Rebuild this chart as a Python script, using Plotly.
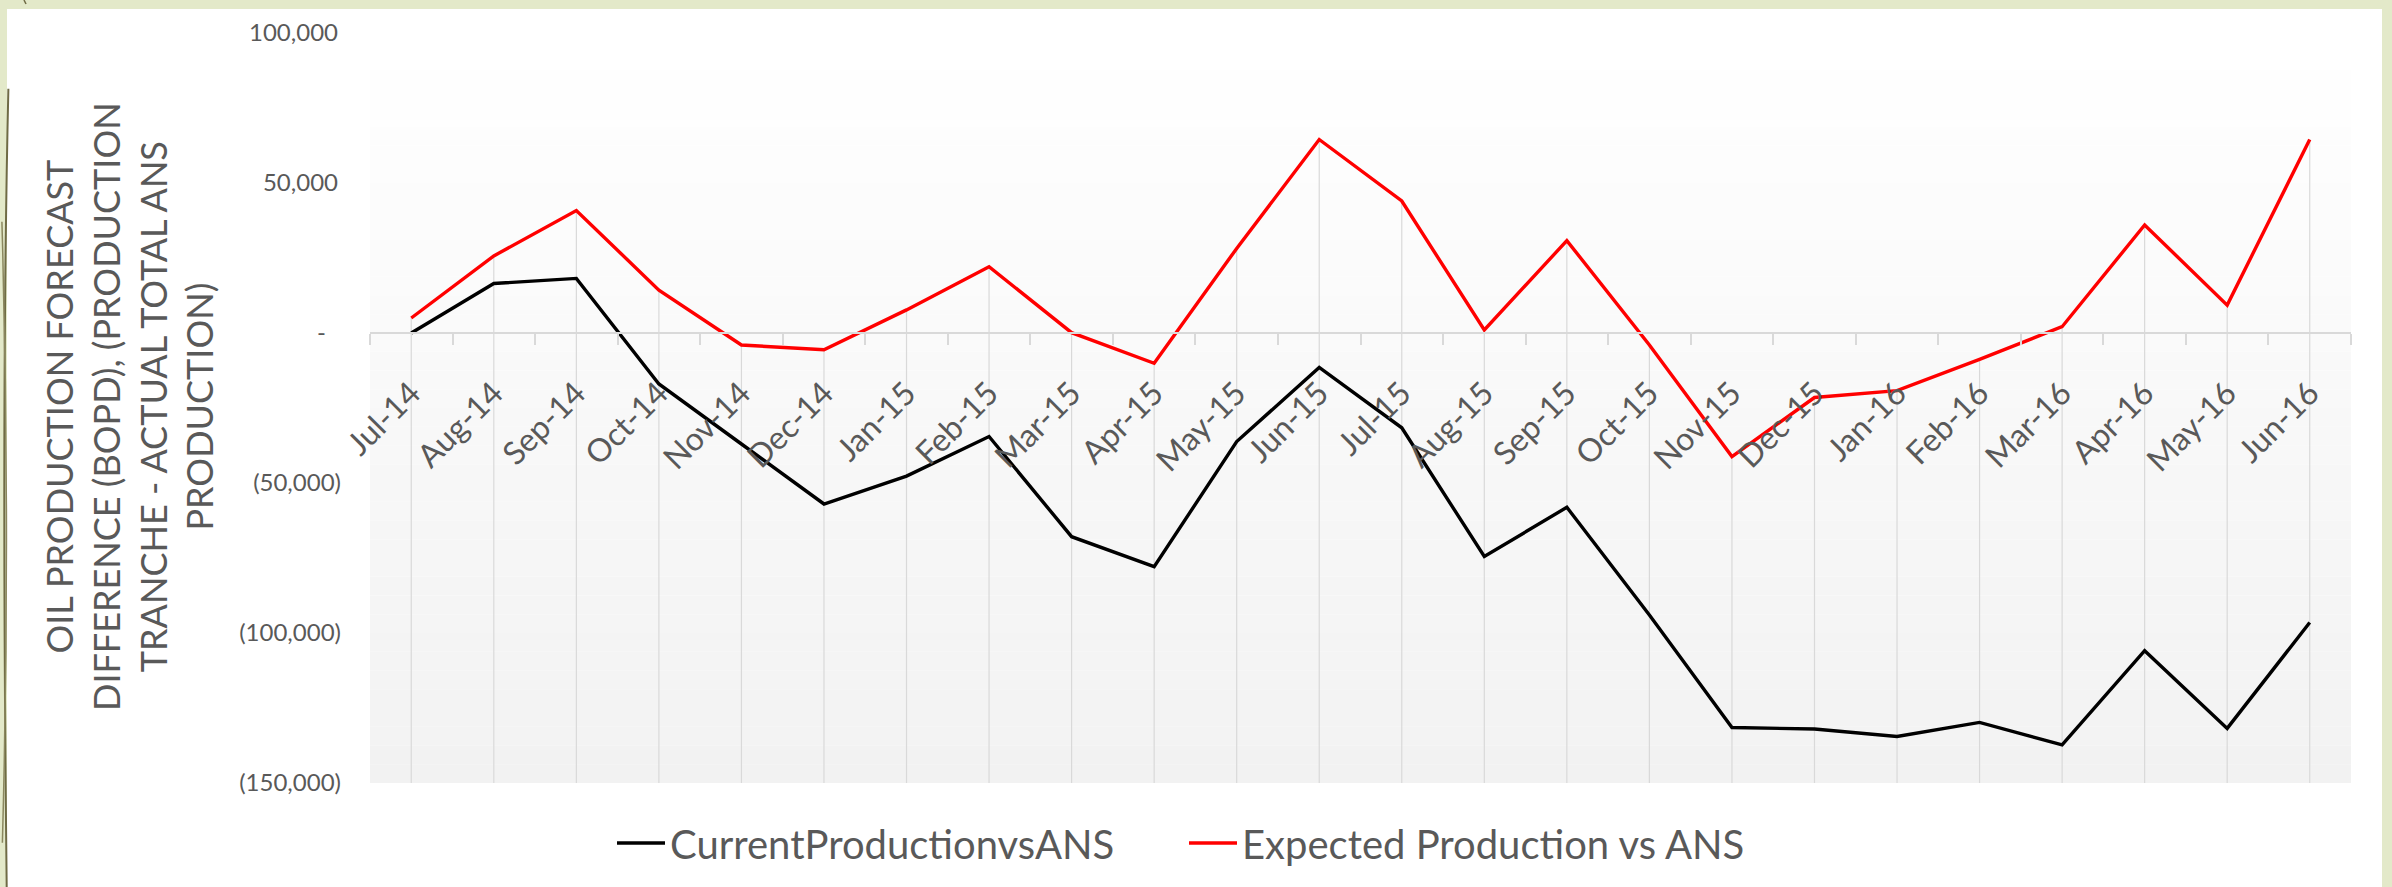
import plotly.graph_objects as go
import numpy as np

# ---------------- data ----------------
months = ["Jul-14", "Aug-14", "Sep-14", "Oct-14", "Nov-14", "Dec-14",
          "Jan-15", "Feb-15", "Mar-15", "Apr-15", "May-15", "Jun-15",
          "Jul-15", "Aug-15", "Sep-15", "Oct-15", "Nov-15", "Dec-15",
          "Jan-16", "Feb-16", "Mar-16", "Apr-16", "May-16", "Jun-16"]

current_vs_ans = [0, 16500, 18200, -17000, -37000, -57000,
                  -47700, -34500, -67900, -77900, -36200, -11500,
                  -31600, -74500, -58100, -94000, -131500, -132000,
                  -134500, -129800, -137300, -105900, -131800, -96500]

expected_vs_ans = [5000, 25700, 40800, 14300, -4000, -5600,
                   7700, 22100, 100, -10100, 28200, 64500,
                   44000, 1000, 30800, -4000, -41200, -21500,
                   -19200, -8800, 2100, 36000, 9300, 64500]

y_tickvals = [100000, 50000, 0, -50000, -100000, -150000]
y_ticktext = ["100,000\u2009", "50,000\u2009", "-\u2002\u2009", "(50,000)", "(100,000)", "(150,000)"]
y_min, y_max = -150000, 100000

names = ["CurrentProductionvsANS", "Expected Production vs ANS"]
y_title = "OIL PRODUCTION FORECAST<br>DIFFERENCE (BOPD), (PRODUCTION<br>TRANCHE - ACTUAL TOTAL ANS<br>PRODUCTION)"

# ---------------- layout constants ----------------
W, H = 2392, 887
FONT = "Lato"
TXT = "#595959"
GRID = "#d9d9d9"

px_l, px_r = 370, 2351
px_t, px_b = 33, 783
x_dom = [px_l / W, px_r / W]
y_dom = [1 - px_b / H, 1 - px_t / H]
zero_pos = y_dom[0] + (0 - y_min) / (y_max - y_min) * (y_dom[1] - y_dom[0])

fig = go.Figure()

# drop lines from the higher series value down to the plot floor
dx, dy = [], []
for m, a, b in zip(months, current_vs_ans, expected_vs_ans):
    dx += [m, m, None]
    dy += [max(a, b), y_min, None]
fig.add_trace(go.Scatter(x=dx, y=dy, mode="lines", line=dict(color=GRID, width=1.2),
                         showlegend=False, hoverinfo="skip"))

fig.add_trace(go.Scatter(x=months, y=current_vs_ans, mode="lines", name=names[0],
                         line=dict(color="#000000", width=3.4)))
fig.add_trace(go.Scatter(x=months, y=expected_vs_ans, mode="lines", name=names[1],
                         line=dict(color="#ff0000", width=3.4)))

# empty trace bound to the boundary-tick axis
fig.add_trace(go.Scatter(x=[], y=[], xaxis="x2", showlegend=False, hoverinfo="skip"))

# background shapes
shapes = []
shapes.append(dict(type="rect", xref="paper", yref="paper", x0=7 / W, x1=2382 / W,
                   y0=0, y1=1 - 9 / H, fillcolor="white", line=dict(width=0), layer="below"))
nb = 40
for i in range(nb):
    t = i / (nb - 1)
    c = int(round(255 - (255 - 242) * t))
    shapes.append(dict(type="rect", xref="x domain", yref="y domain", x0=0, x1=1,
                       y0=1 - (i + 1) / nb, y1=1 - i / nb,
                       fillcolor=f"rgb({c},{c},{c})", line=dict(width=0), layer="below"))
# decorative strokes on the left frame
shapes.append(dict(type="path", xref="paper", yref="paper",
                   path="M 0.0035,0.90 Q 0.0005,0.55 0.0028,0.0",
                   line=dict(color="#6f6b45", width=2), layer="below"))
shapes.append(dict(type="path", xref="paper", yref="paper",
                   path="M 0.0008,0.75 Q 0.0045,0.40 0.0010,0.05",
                   line=dict(color="#8a875e", width=1.5), layer="below"))
shapes.append(dict(type="line", xref="paper", yref="paper",
                   x0=24 / W, x1=26 / W, y0=1, y1=1 - 4 / H,
                   line=dict(color="#6f6b45", width=1.5), layer="below"))

fig.update_layout(
    width=W, height=H, autosize=False,
    margin=dict(l=0, r=0, t=0, b=0, pad=0, autoexpand=False),
    paper_bgcolor="#e3e9c9",
    plot_bgcolor="rgba(0,0,0,0)",
    font=dict(family=FONT, color=TXT),
    shapes=shapes,
    showlegend=True,
    legend=dict(orientation="h", x=612 / W, xanchor="left", y=1 - 843 / H, yanchor="middle",
                font=dict(family=FONT, size=40, color=TXT), bgcolor="rgba(0,0,0,0)",
                itemwidth=48, entrywidth=509, entrywidthmode="pixels",
                traceorder="normal"),
    xaxis=dict(type="category", categoryorder="array", categoryarray=months,
               domain=x_dom, anchor="free", position=zero_pos, automargin=False,
               range=[-0.5, len(months) - 0.5],
               showline=True, linecolor=GRID, linewidth=1.5,
               showgrid=False, zeroline=False, ticks="",
               tickangle=-45, tickfont=dict(family=FONT, size=32, color=TXT),
               ticklabelstandoff=28),
    xaxis2=dict(overlaying="x", domain=x_dom, anchor="free", position=zero_pos, automargin=False,
                range=[-0.5, len(months) - 0.5],
                tickmode="array", tickvals=list(np.arange(len(months) + 1) - 0.5),
                ticks="outside", ticklen=11, tickcolor=GRID, tickwidth=1.5,
                showticklabels=False, showline=False, showgrid=False, zeroline=False),
    yaxis=dict(domain=y_dom, range=[y_min, y_max], automargin=False,
               tickmode="array", tickvals=y_tickvals, ticktext=y_ticktext,
               showgrid=False, zeroline=False, showline=False, ticks="",
               tickfont=dict(family=FONT, size=24, color=TXT),
               ticklabelstandoff=28),
    annotations=[dict(text=y_title, xref="paper", yref="paper",
                      x=129 / W, y=1 - 407 / H, xanchor="center", yanchor="middle",
                      textangle=-90, showarrow=False, align="center",
                      font=dict(family=FONT, size=36, color=TXT))],
)

fig.write_html("out.html", config={"displayModeBar": False},
               post_script="document.documentElement.style.margin='0';document.body.style.margin='0';document.body.style.padding='0';")
